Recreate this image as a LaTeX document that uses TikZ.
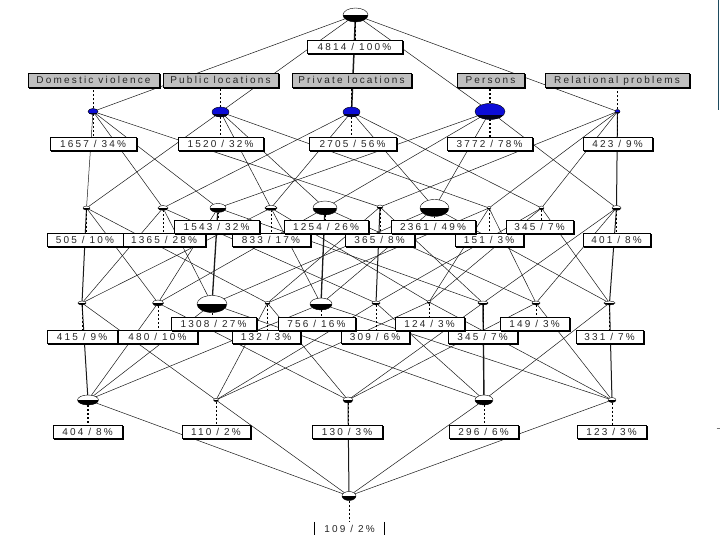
\documentclass[tikz,border=0pt]{standalone}
\usepackage{fontspec}
\newfontfamily\labfont[LetterSpace=22]{Liberation Sans}
\usetikzlibrary{shapes.geometric,shadows,calc}
\pgfdeclarelayer{bg}
\pgfsetlayers{bg,main}
\definecolor{nodeblue}{RGB}{12,12,215}
\definecolor{sidebar}{RGB}{30,75,95}
\tikzset{
 cn/.style={ellipse,draw=black,line width=0.4pt,fill=white,inner sep=0pt,outer sep=0pt,
   path picture={\fill[black] (path picture bounding box.west) rectangle (path picture bounding box.south east);}},
 bn/.style={ellipse,draw=black,line width=0.4pt,fill=nodeblue,inner sep=0pt,outer sep=0pt,
   path picture={\fill[black!85!nodeblue] ($(path picture bounding box.south west)!0.28!(path picture bounding box.north west)$) rectangle (path picture bounding box.south east);}},
 cnt/.style={draw=black,line width=0.5pt,fill=white,inner sep=0pt,minimum height=13pt,
   text height=7.2pt,text depth=0pt,
   text=black!85,font=\labfont\fontsize{10}{11}\selectfont,
   copy shadow={shadow xshift=1pt,shadow yshift=-1pt,fill=black,draw=black}},
 atl/.style={cnt,fill=gray!50,minimum height=14pt},
 botl/.style={inner sep=0pt,minimum height=13pt,text height=7.2pt,text depth=0pt,text=black!85,font=\labfont\fontsize{10}{11}\selectfont},
 ln/.style={line width=0.5pt,black!90},
 vln/.style={line width=1pt,black!90},
 dl/.style={dash pattern=on 2pt off 2pt,line width=0.5pt},
 tdl/.style={dash pattern=on 2pt off 2pt,line width=1.3pt},
}
\newcommand\cnd[5]{\node[cn,minimum width=#4pt,minimum height=#5pt] (#1) at (#2,#3) {};}
\newcommand\bnd[5]{\node[bn,minimum width=#4pt,minimum height=#5pt] (#1) at (#2,#3) {};}
\newcommand\clab[5]{\node[cnt,minimum width=#4pt] (#1) at (#2,#3) {#5};}
\newcommand\alab[5]{\node[atl,minimum width=#4pt] (#1) at (#2,#3) {#5};}
\begin{document}
\begin{tikzpicture}[x=1pt,y=-1pt]
\useasboundingbox (0,0) rectangle (720,540);
% concept nodes
\cnd{top}{355.5}{15}{25}{14}
\bnd{D}{93}{111.5}{10}{6}
\bnd{U}{220.5}{112}{17}{10}
\bnd{V}{351.5}{112}{17}{10}
\bnd{P}{490}{111.5}{30}{16}
\bnd{R}{617.5}{111.5}{5}{4}
\cnd{DU}{86.5}{208}{7}{4}
\cnd{DV}{163}{208}{10}{5}
\cnd{DP}{218}{208}{16}{9}
\cnd{UV}{271}{208}{12}{5}
\cnd{UP}{325}{208}{24}{14}
\cnd{DR}{380}{207}{6}{4}
\cnd{VP}{434.5}{208}{29}{17}
\cnd{UR}{489}{208}{4}{3}
\cnd{VR}{541.5}{208}{5}{4}
\cnd{PR}{616.5}{208}{9}{5}
\cnd{DUV}{82}{303}{8}{4}
\cnd{DUP}{158}{303}{11}{6}
\cnd{DVP}{212}{304}{30}{17}
\cnd{DUR}{267.5}{303}{5}{3}
\cnd{UVP}{321}{304}{22}{12}
\cnd{DVR}{376}{303}{8}{4}
\cnd{UVR}{429}{302}{4}{3}
\cnd{DPR}{483}{303}{10}{4}
\cnd{UPR}{536}{303}{8}{4}
\cnd{VPR}{609.5}{303}{11}{4}
\cnd{DUVP}{88}{400}{21}{10}
\cnd{DUVR}{216}{400}{5}{3}
\cnd{DUPR}{348}{400}{10}{6}
\cnd{DVPR}{484}{400}{18}{10}
\cnd{UVPR}{612}{400}{8}{5}
\cnd{ALL}{349}{496}{14}{9}
% labels
\clab{cTop}{354.5}{47}{95}{4814 / 100\%}
\alab{aD}{93.5}{80}{131}{Domestic violence}
\alab{aU}{220.5}{80}{115}{Public locations}
\alab{aV}{351.5}{80}{119}{Private locations}
\alab{aP}{490.5}{80}{67}{Persons}
\alab{aR}{617}{80}{144}{Relational problems}
\clab{cD}{93}{143.5}{86}{1657 / 34\%}
\clab{cU}{220.5}{143.5}{85}{1520 / 32\%}
\clab{cV}{352.5}{143.5}{87}{2705 / 56\%}
\clab{cP}{489.5}{143.5}{85}{3772 / 78\%}
\clab{cR}{617.5}{143.5}{69}{423 / 9\%}
\clab{cDU}{85}{240}{76}{505 / 10\%}
\clab{cDV}{164}{240}{82}{1365 / 28\%}
\clab{cUV}{271}{240}{78}{833 / 17\%}
\clab{cDR}{379.5}{240}{69}{365 / 8\%}
\clab{cUR}{489}{240}{68}{151 / 3\%}
\clab{cPR}{616.5}{240}{67}{401 / 8\%}
\clab{cDP}{216.5}{227}{85}{1543 / 32\%}
\clab{cUP}{326}{227}{84}{1254 / 26\%}
\clab{cVP}{433}{227}{84}{2361 / 49\%}
\clab{cVR}{539.5}{227}{67}{345 / 7\%}
\clab{cDUV}{82}{336.5}{70}{415 / 9\%}
\clab{cDUP}{157.5}{336.5}{79}{480 / 10\%}
\clab{cDUR}{266}{336.5}{68}{132 / 3\%}
\clab{cDVR}{375}{336.5}{68}{309 / 6\%}
\clab{cDPR}{482.5}{336.5}{69}{345 / 7\%}
\clab{cVPR}{609.5}{336.5}{67}{331 / 7\%}
\clab{cDVP}{213.5}{323.5}{85}{1308 / 27\%}
\clab{cUVP}{316.5}{323.5}{77}{756 / 16\%}
\clab{cUVR}{429.5}{323.5}{69}{124 / 3\%}
\clab{cUPR}{534.5}{323.5}{69}{149 / 3\%}
\clab{cDUVP}{87.5}{432}{69}{404 / 8\%}
\clab{cDUVR}{216}{432}{68}{110 / 2\%}
\clab{cDUPR}{347}{432}{70}{130 / 3\%}
\clab{cDVPR}{483.5}{432}{69}{296 / 6\%}
\clab{cUVPR}{611.5}{432}{69}{123 / 3\%}
\node[botl,minimum width=69pt] (cALL) at (349.5,528.5) {109 / 2\%};
\draw[line width=1.3pt] (cALL.north west) -- (cALL.south west);
\draw[line width=0.6pt] (cALL.north east) -- (cALL.south east);
% side marks
\draw[sidebar,line width=1.6pt] (718.5,0) -- (718.5,110);
\draw[black!55,line width=0.8pt] (716.5,428) -- (720,428);
\begin{pgfonlayer}{bg}
\fill[white] (0,0) rectangle (720,540);
% top to attribute concepts
\draw[ln] (top) -- (D); \draw[ln] (top) -- (U); \draw[vln,line width=1.5pt] (top) -- (V);
\draw[ln] (top) -- (P); \draw[ln] (top) -- (R);
% level 1 to level 2
\foreach \a/\b in {D/DU,D/DV,D/DP,D/DR,U/DU,U/UV,U/UP,U/UR,V/DV,V/UV,V/VP,V/VR,P/DP,P/UP,P/VP,P/PR,R/DR,R/UR,R/VR}
  \draw[ln] (\a) -- (\b);
\draw[vln] (R) -- (PR);
% level 2 to level 3
\foreach \a/\b in {DU/DUP,DU/DUR,DV/DUV,DV/DVP,DV/DVR,DP/DUP,DP/DPR,UV/DUV,UV/UVP,UV/UVR,UP/DUP,UP/UPR,DR/DUR,DR/DPR,VP/DVP,VP/UVP,VP/VPR,UR/DUR,UR/UVR,UR/UPR,VR/DVR,VR/UVR,VR/VPR,PR/DPR,PR/UPR}
  \draw[ln] (\a) -- (\b);
\draw[vln] (DU) -- (DUV); \draw[vln,line width=1.3pt] (DP) -- (DVP); \draw[vln,line width=1.3pt] (UP) -- (UVP);
\draw[vln] (DR) -- (DVR); \draw[vln] (PR) -- (VPR);
% level 3 to level 4
\foreach \a/\b in {DUP/DUVP,DVP/DUVP,UVP/DUVP,DUV/DUVR,DUR/DUVR,DVR/DUVR,UVR/DUVR,DUP/DUPR,DUR/DUPR,DPR/DUPR,UPR/DUPR,DVP/DVPR,DVR/DVPR,VPR/DVPR,UVP/UVPR,UVR/UVPR,UPR/UVPR}
  \draw[ln] (\a) -- (\b);
\draw[vln] (DUV) -- (DUVP); \draw[vln,line width=1.4pt] (DPR) -- (DVPR); \draw[vln] (VPR) -- (UVPR);
% level 4 to bottom
\foreach \a in {DUVP,DUVR,DVPR,UVPR} \draw[ln] (\a) -- (ALL);
\draw[vln] (DUPR) -- (ALL);
% dashed label lines
\foreach \n in {D,U,V,R} \draw[dl] (\n.north) -- (\n.north |- a\n.south);
\draw[tdl] (P.north) -- (P.north |- aP.south);
\draw[dl] (top.south) -- (top.south |- cTop.north);
\foreach \n in {D,U,V,R,DU,DV,DP,UV,UP,DR,VP,UR,VR,PR,DUV,DUP,DVP,DUR,UVP,DVR,UVR,DPR,UPR,VPR,DUVR,DUPR,DVPR,UVPR,ALL}
  \draw[dl] (\n.south) -- (\n.south |- c\n.north);
\draw[tdl] (P.south) -- (P.south |- cP.north);
\draw[tdl] (DUVP.south) -- (DUVP.south |- cDUVP.north);
\end{pgfonlayer}
\end{tikzpicture}
\end{document}
